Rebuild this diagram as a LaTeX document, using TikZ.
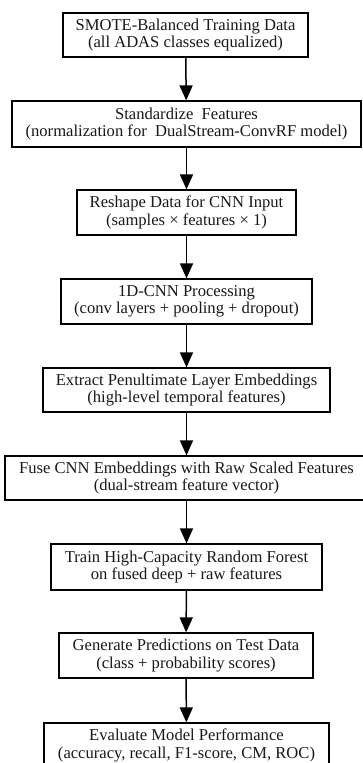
\documentclass[tikz,border=0pt]{standalone}
\usepackage{fontspec}
\setmainfont{Liberation Serif}
\usetikzlibrary{arrows.meta}

\tikzset{
  stage/.style={draw=black, line width=1.2pt, fill=white, inner sep=0pt,
    align=center, minimum height=45pt, text=black!90,
    font=\fontsize{16.6}{17.2}\selectfont},
  flow/.style={line width=1.5pt, -{Triangle[width=13pt,length=15pt]}}
}

\begin{document}
\begin{tikzpicture}[x=1pt, y=-1pt]
  \useasboundingbox (0,0) rectangle (362,763);
  \fill[white] (0,0) rectangle (362,763);

  \node[stage, minimum width=245pt, minimum height=44pt] (smote) at (185.5,35)
    {SMOTE-Balanced Training Data\\(all ADAS classes equalized)};
  \node[stage, minimum width=349pt, minimum height=46pt] (std) at (186.5,124)
    {Standardize~~Features\\(normalization for~~DualStream-ConvRF model)};
  \node[stage, minimum width=219pt] (reshape) at (186.5,212.5)
    {Reshape Data for CNN Input\\(samples × features × 1)};
  \node[stage, minimum width=251pt] (cnn) at (186.5,301.5)
    {1D-CNN Processing\\(conv layers + pooling + dropout)};
  \node[stage, minimum width=287pt, minimum height=44pt] (embed) at (186.5,390)
    {Extract Penultimate Layer Embeddings\\(high-level temporal features)};
  \node[stage, minimum width=363pt, minimum height=44pt] (fuse) at (186.5,478)
    {Fuse CNN Embeddings with Raw Scaled Features\\(dual-stream feature vector)};
  \node[stage, minimum width=271pt, minimum height=46pt] (rf) at (186.5,567)
    {Train High-Capacity Random Forest\\on fused deep + raw features};
  \node[stage, minimum width=254pt] (pred) at (186,655.5)
    {Generate Predictions on Test Data\\(class + probability scores)};
  \node[stage, minimum width=285pt] (eval) at (186.5,745.5)
    {Evaluate Model Performance\\(accuracy, recall, F1-score, CM, ROC)};

  \draw[flow] (smote) -- (std);
  \draw[flow] (std) -- (reshape);
  \draw[flow] (reshape) -- (cnn);
  \draw[flow] (cnn) -- (embed);
  \draw[flow] (embed) -- (fuse);
  \draw[flow] (fuse) -- (rf);
  \draw[flow] (rf) -- (pred);
  \draw[flow] (pred) -- (eval);
\end{tikzpicture}
\end{document}
